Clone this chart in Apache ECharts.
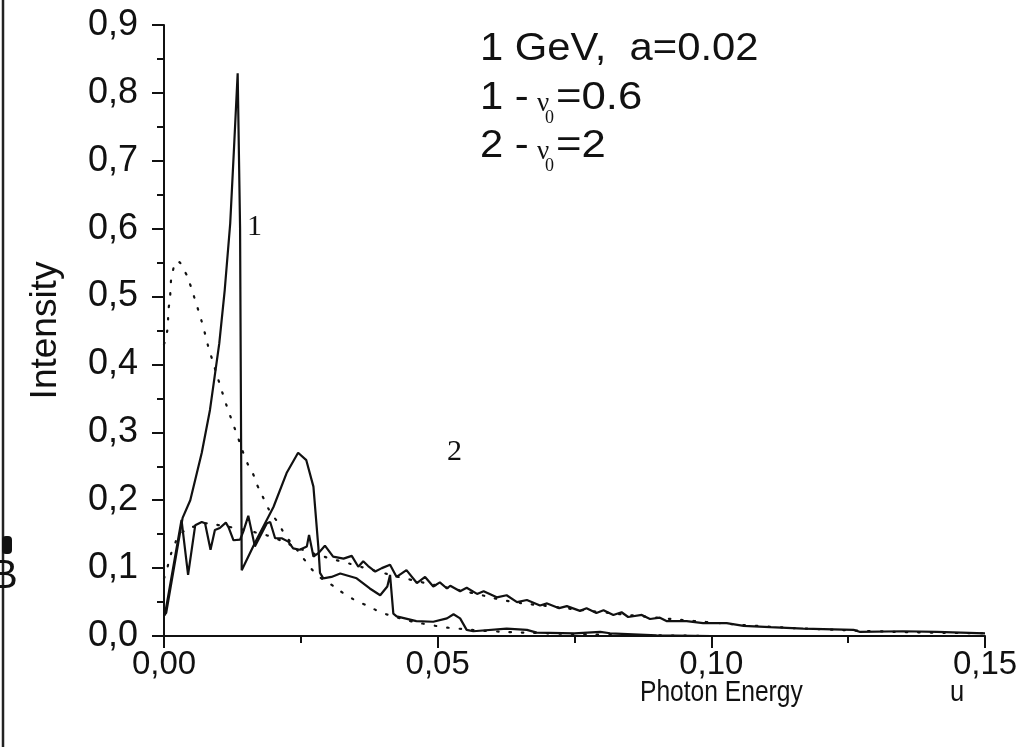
<!DOCTYPE html>
<html><head><meta charset="utf-8">
<script src="https://cdn.jsdelivr.net/npm/echarts@6/dist/echarts.min.js"></script>
<style>html,body{margin:0;padding:0;background:#fff}#c{width:1033px;height:747px}</style>
</head><body><div id="c"></div>
<script>
// Curve 1 (nu0 = 0.6): [photon energy u, intensity]
const curve1 = [[0.0000,0.030],[0.0004,0.034],[0.0034,0.174],[0.0048,0.200],[0.0069,0.270],[0.0084,0.333],[0.0101,0.431],[0.0111,0.510],[0.0121,0.608],[0.0128,0.720],[0.01346,0.829],[0.0139,0.600],[0.0142,0.097],[0.0166,0.137],[0.0200,0.190],[0.0224,0.240],[0.0245,0.270],[0.0260,0.259],[0.0273,0.220],[0.0282,0.131],[0.0285,0.093],[0.0291,0.085],[0.0306,0.087],[0.0322,0.092],[0.0352,0.085],[0.0376,0.070],[0.0395,0.060],[0.0408,0.073],[0.0413,0.090],[0.0419,0.033],[0.0425,0.029],[0.0461,0.022],[0.0492,0.021],[0.0517,0.026],[0.0529,0.032],[0.0541,0.026],[0.0553,0.009],[0.0565,0.007],[0.0626,0.011],[0.0663,0.009],[0.0681,0.005],[0.0750,0.004],[0.0797,0.006],[0.0815,0.004],[0.0900,0.001],[0.1000,0.000],[0.1500,0.000]];
// Curve 2 (nu0 = 2)
const curve2 = [[0.0000,0.030],[0.0002,0.033],[0.0032,0.171],[0.0044,0.090],[0.0057,0.163],[0.0069,0.168],[0.0075,0.166],[0.0085,0.127],[0.0093,0.156],[0.0102,0.159],[0.0113,0.167],[0.0118,0.160],[0.0127,0.141],[0.0139,0.142],[0.0145,0.154],[0.0154,0.177],[0.0166,0.132],[0.0175,0.146],[0.0188,0.166],[0.0194,0.168],[0.0203,0.144],[0.0215,0.144],[0.0227,0.139],[0.0236,0.129],[0.0248,0.127],[0.0261,0.132],[0.0265,0.149],[0.0273,0.117],[0.0282,0.122],[0.0294,0.133],[0.0309,0.117],[0.0328,0.114],[0.0343,0.118],[0.0355,0.102],[0.0364,0.110],[0.0373,0.103],[0.0386,0.095],[0.0398,0.100],[0.0413,0.105],[0.0425,0.087],[0.0443,0.097],[0.0462,0.078],[0.0477,0.087],[0.0492,0.073],[0.0504,0.079],[0.0517,0.070],[0.0523,0.074],[0.0541,0.066],[0.0553,0.071],[0.0572,0.062],[0.0584,0.066],[0.0608,0.057],[0.0626,0.060],[0.0645,0.050],[0.0663,0.053],[0.0687,0.045],[0.0700,0.048],[0.0722,0.041],[0.0736,0.044],[0.0760,0.037],[0.0772,0.041],[0.0790,0.034],[0.0803,0.038],[0.0821,0.031],[0.0836,0.035],[0.0848,0.028],[0.0873,0.031],[0.0888,0.025],[0.0906,0.027],[0.0918,0.022],[0.0955,0.022],[0.0985,0.019],[0.1028,0.019],[0.1059,0.015],[0.1107,0.013],[0.1168,0.011],[0.1260,0.009],[0.1272,0.006],[0.1350,0.007],[0.1412,0.006],[0.1500,0.004]];
// Dotted curve (broad smooth spectrum)
const dottedA = [[0.0000,0.430],[0.0004,0.441],[0.0007,0.459],[0.0008,0.479],[0.0011,0.497],[0.0012,0.514],[0.0015,0.533],[0.0024,0.552],[0.0040,0.534],[0.0049,0.515],[0.0056,0.497],[0.0063,0.479],[0.0070,0.460],[0.0076,0.442],[0.0082,0.423],[0.0089,0.405],[0.0096,0.386],[0.0103,0.368],[0.0110,0.350],[0.0118,0.331],[0.0126,0.313],[0.0134,0.295],[0.0151,0.257],[0.0162,0.240],[0.0171,0.221],[0.0183,0.201],[0.0194,0.183],[0.0209,0.166],[0.0222,0.148],[0.0239,0.131],[0.0259,0.110],[0.0280,0.090],[0.0305,0.076],[0.0328,0.063],[0.0351,0.052],[0.0373,0.044],[0.0396,0.035],[0.0419,0.029],[0.0450,0.022],[0.0489,0.016],[0.0512,0.013],[0.0535,0.011],[0.0600,0.007],[0.0700,0.004],[0.0800,0.002],[0.0900,0.001],[0.1000,0.000]];
// Dotted curve (mean trend of curve 2)
const dottedB = [[0.0000,0.085],[0.0005,0.097],[0.0011,0.116],[0.0019,0.134],[0.0030,0.150],[0.0057,0.162],[0.0078,0.166],[0.0102,0.163],[0.0124,0.160],[0.0148,0.156],[0.0175,0.151],[0.0200,0.145],[0.0250,0.128],[0.0300,0.115],[0.0328,0.109],[0.0400,0.093],[0.0450,0.083],[0.0565,0.063],[0.0632,0.051],[0.0701,0.044],[0.0800,0.035],[0.0900,0.027],[0.1000,0.020],[0.1100,0.014],[0.1200,0.010],[0.1300,0.007],[0.1400,0.005],[0.1500,0.004]];
const xTicks = {min:0, max:0.15, interval:0.05};
const yTicks = {min:0, max:0.9, interval:0.1};

const chart = echarts.init(document.getElementById('c'), null, {renderer:'canvas'});
const ink = '#111';
const sans = '"Liberation Sans", Arial, sans-serif';
const serif = '"Liberation Serif", "Times New Roman", serif';
function stretched(txt, x, y, size, sx, fam) {
  return {type:'text', x:x, y:y, scaleX:sx, style:{text:txt, font:size+'px '+(fam||sans), fill:ink}};
}
chart.setOption({
  backgroundColor:'#fff',
  animation:false,
  grid:{left:164, right:48, top:25, bottom:111},
  xAxis:{type:'value', min:xTicks.min, max:xTicks.max, interval:xTicks.interval,
    axisLine:{lineStyle:{color:ink,width:2}},
    axisTick:{show:true, inside:false, length:12, lineStyle:{color:ink,width:2}},
    minorTick:{show:true, splitNumber:2, length:7, lineStyle:{color:ink,width:2}},
    splitLine:{show:false},
    axisLabel:{color:ink, fontFamily:sans, fontSize:33, margin:12,
      formatter:v=>v.toFixed(2).replace('.',',')}},
  yAxis:{type:'value', min:yTicks.min, max:yTicks.max, interval:yTicks.interval,
    name:'Intensity', nameLocation:'middle', nameGap:100, nameRotate:90,
    nameTextStyle:{color:ink, fontFamily:sans, fontSize:37},
    axisLine:{show:true, lineStyle:{color:ink,width:2}},
    axisTick:{show:true, inside:false, length:12, lineStyle:{color:ink,width:2}},
    minorTick:{show:true, splitNumber:2, length:7, lineStyle:{color:ink,width:2}},
    splitLine:{show:false},
    axisLabel:{color:ink, fontFamily:sans, fontSize:36, margin:26,
      formatter:v=>v.toFixed(1).replace('.',',')}},
  series:[
    {type:'line', data:dottedA, symbol:'none', smooth:true, z:1,
     lineStyle:{color:ink, width:2.2, type:[1.5,11], cap:'round'}},
    {type:'line', data:dottedB, symbol:'none', smooth:true, z:1,
     lineStyle:{color:ink, width:2.2, type:[1.5,11], cap:'round'}},
    {type:'line', data:curve2, symbol:'none', z:3, lineStyle:{color:ink, width:2.2}},
    {type:'line', data:curve1, symbol:'none', z:3, lineStyle:{color:ink, width:2.2}}
  ],
  graphic:[
    {type:'line', shape:{x1:3,y1:0,x2:3,y2:747}, style:{stroke:'#222', lineWidth:2.5}},
    {type:'rect', shape:{x:2,y:536,width:10,height:18,r:4}, style:{fill:ink}},
    {type:'text', x:-9, y:557, style:{text:'B', font:'40px '+sans, fill:ink}},
    stretched('1 GeV,  a=0.02', 480, 31, 38, 1.1),
    stretched('1 -', 480, 80, 38, 1.1),
    {type:'text', x:537, y:90, style:{text:'\u03bd', font:'27px '+serif, fill:ink}},
    {type:'text', x:545, y:109, style:{text:'0', font:'18px '+serif, fill:ink}},
    stretched('=0.6', 556, 80, 38, 1.15),
    stretched('2 -', 480, 128, 38, 1.1),
    {type:'text', x:537, y:138, style:{text:'\u03bd', font:'27px '+serif, fill:ink}},
    {type:'text', x:545, y:157, style:{text:'0', font:'18px '+serif, fill:ink}},
    stretched('=2', 556, 128, 38, 1.15),
    {type:'text', x:247, y:212, style:{text:'1', font:'30px '+serif, fill:ink}},
    {type:'text', x:447, y:437, style:{text:'2', font:'30px '+serif, fill:ink}},
    stretched('Photon Energy', 640, 678, 30, 0.82),
    stretched('u', 950, 678, 30, 0.85)
  ]
});
</script></body></html>
